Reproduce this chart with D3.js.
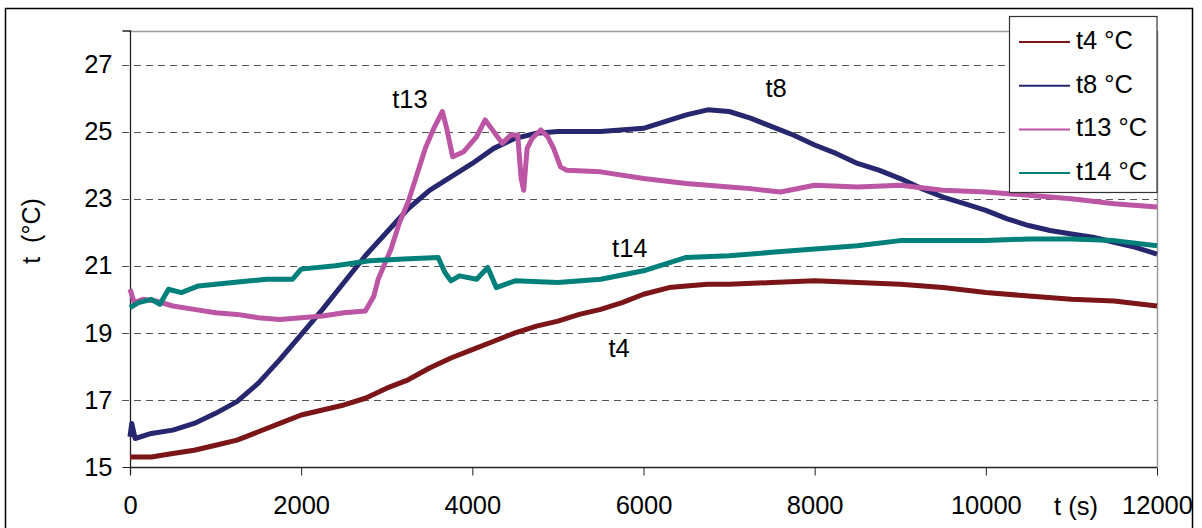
<!DOCTYPE html>
<html><head><meta charset="utf-8">
<script src="https://cdn.jsdelivr.net/npm/d3@7/dist/d3.min.js"></script>
<style>body{margin:0;background:#fff}svg{display:block}text{font-family:"Liberation Sans",Arial,sans-serif}</style>
</head><body><svg id="c" width="1202" height="528"></svg>
<script>
// time (s) and temperature (°C) readings per sensor
const t4_time = [0,250,500,750,1000,1250,1500,1750,2000,2250,2500,2750,3000,3250,3500,3750,4000,4250,4500,4750,5000,5250,5500,5750,6000,6300,6500,6750,7000,7500,8000,8500,9000,9500,10000,10500,11000,11500,12000];
const t4_vals = [15.3,15.3,15.4,15.5,15.65,15.8,16.05,16.3,16.55,16.7,16.85,17.05,17.35,17.6,17.95,18.25,18.5,18.75,19.0,19.2,19.35,19.55,19.7,19.9,20.15,20.35,20.4,20.45,20.45,20.5,20.55,20.5,20.45,20.35,20.2,20.1,20.0,19.95,19.8];

const t8_time = [0,20,60,250,500,750,1000,1250,1500,1750,2000,2250,2500,2750,3000,3250,3500,3750,4000,4250,4500,4750,5000,5500,6000,6250,6500,6750,7000,7250,7500,7750,8000,8250,8500,8750,9000,9250,9500,9750,10000,10250,10500,10750,11000,11250,11500,11750,12000];
const t8_vals = [15.9,16.3,15.85,16.0,16.1,16.3,16.6,16.95,17.5,18.2,18.95,19.7,20.5,21.3,22.0,22.7,23.25,23.65,24.05,24.5,24.8,24.95,25.0,25.0,25.1,25.3,25.5,25.65,25.6,25.4,25.15,24.9,24.6,24.35,24.05,23.85,23.6,23.3,23.05,22.85,22.65,22.4,22.2,22.05,21.95,21.85,21.7,21.55,21.35];

const t13_time = [0,50,150,300,500,750,1000,1250,1500,1750,2000,2250,2500,2750,2850,2900,2950,3050,3150,3250,3350,3450,3550,3650,3700,3770,3900,4050,4150,4250,4350,4450,4530,4570,4600,4640,4700,4800,4880,4950,5030,5100,5500,6000,6500,7000,7250,7600,8000,8500,9000,9500,10000,10500,11000,11500,12000];
const t13_vals = [20.3,19.9,20.0,19.95,19.8,19.7,19.6,19.55,19.45,19.4,19.45,19.5,19.6,19.65,20.1,20.6,20.9,21.5,22.3,22.9,23.7,24.5,25.1,25.6,25.1,24.25,24.4,24.85,25.35,25.0,24.65,24.9,24.9,23.6,23.25,24.5,24.8,25.05,24.85,24.5,23.95,23.85,23.8,23.6,23.45,23.35,23.3,23.2,23.4,23.35,23.4,23.25,23.2,23.1,23.0,22.85,22.75];

const t14_time = [0,100,250,350,450,600,800,1200,1600,1900,2000,2400,2800,3200,3600,3680,3750,3850,4050,4180,4280,4500,5000,5500,6000,6500,7000,7500,8000,8500,9000,9500,10000,10500,11000,11500,12000];
const t14_vals = [19.75,19.9,20.0,19.85,20.3,20.2,20.4,20.5,20.6,20.6,20.9,21.0,21.15,21.2,21.25,20.8,20.55,20.7,20.6,20.95,20.35,20.55,20.5,20.6,20.85,21.25,21.3,21.4,21.5,21.6,21.75,21.75,21.75,21.8,21.8,21.75,21.6];

const seriesNames = ["t4 °C","t8 °C","t13 °C","t14 °C"];
const seriesColors = ["#7b1518","#27276f","#bb55a4","#00807b"];
const xTicks = [0,2000,4000,6000,8000,10000,12000];
const yTicks = [15,17,19,21,23,25,27];
const annotations = [["t13",3270,25.7],["t8",7550,26.03],["t14",5840,21.26],["t4",5715,18.28]];

const svg = d3.select("#c");
const x = d3.scaleLinear().domain([0,12000]).range([130,1157]);
const y = d3.scaleLinear().domain([15,28]).range([467,31]);

// outer frame
svg.append("rect").attr("x",5.5).attr("y",8.5).attr("width",1187).attr("height",530).attr("fill","none").attr("stroke","#000").attr("stroke-width",1.5);

// plot frame top/right
svg.append("path").attr("d",`M${x(0)},${y(28)+0.5}H${x(12000)+0.5}V${y(15)}`).attr("fill","none").attr("stroke","#9a9a9a").attr("stroke-width",1.5);

// gridlines
svg.append("g").selectAll("line").data(yTicks.filter(d=>d>15)).join("line")
  .attr("x1",122).attr("x2",1157).attr("y1",d=>Math.round(y(d))+0.5).attr("y2",d=>Math.round(y(d))+0.5)
  .attr("stroke","#555").attr("stroke-width",1).attr("stroke-dasharray","7,5");

// axes
const yAxis = d3.axisLeft(y).tickValues(yTicks).tickSize(8).tickPadding(10).tickFormat(d3.format("d"));
const gy = svg.append("g").attr("transform","translate(130.5,0)").call(yAxis);
const xAxis = d3.axisBottom(x).tickValues(xTicks).tickSize(8).tickPadding(20).tickFormat(d3.format("d"));
const gx = svg.append("g").attr("transform","translate(0,467.5)").call(xAxis);
[gx,gy].forEach(g=>{
  g.select(".domain").attr("stroke","#222").attr("stroke-width",1.3);
  g.selectAll(".tick line").attr("stroke","#222");
  g.selectAll("text").attr("font-size",25.5).attr("fill","#000").attr("font-family","Liberation Sans, Arial, sans-serif");
});
gy.select(".domain").attr("d","M-8,"+y(28)+"H0V475");
gy.selectAll(".tick").filter(d=>d>15).select("line").remove();
gx.select(".domain").attr("d","M130,0H1157");

svg.append("text").attr("x",1076).attr("y",515).attr("text-anchor","middle").attr("font-size",25.5).text("t (s)");
svg.append("text").attr("transform","translate(40,231) rotate(-90)").attr("text-anchor","middle").attr("font-size",25).attr("xml:space","preserve").text("t  (°C)");

// series
const series = [[t4_time,t4_vals],[t8_time,t8_vals],[t13_time,t13_vals],[t14_time,t14_vals]];
const line = d3.line().x(d=>x(d[0])).y(d=>y(d[1]));
series.forEach((s,i)=>{
  const pts = s[0].map((t,j)=>[t,s[1][j]]);
  svg.append("path").datum(pts).attr("d",line).attr("fill","none").attr("stroke",seriesColors[i]).attr("stroke-width",5).attr("stroke-linejoin","round");
});

// annotations
svg.append("g").selectAll("text").data(annotations).join("text")
  .attr("x",d=>x(d[1])).attr("y",d=>y(d[2])).attr("text-anchor","middle").attr("font-size",25.5).text(d=>d[0]);

// legend
const lg = svg.append("g");
lg.append("rect").attr("x",1009.5).attr("y",16.5).attr("width",147.5).attr("height",176).attr("fill","#fff").attr("stroke","#333").attr("stroke-width",1.2);
seriesNames.forEach((n,i)=>{
  const yy = 42 + i*43.7;
  lg.append("line").attr("x1",1019).attr("x2",1070).attr("y1",yy).attr("y2",yy).attr("stroke",seriesColors[i]).attr("stroke-width",2);
  lg.append("text").attr("x",1076).attr("y",yy+7).attr("font-size",25.5).text(n);
});
</script></body></html>
